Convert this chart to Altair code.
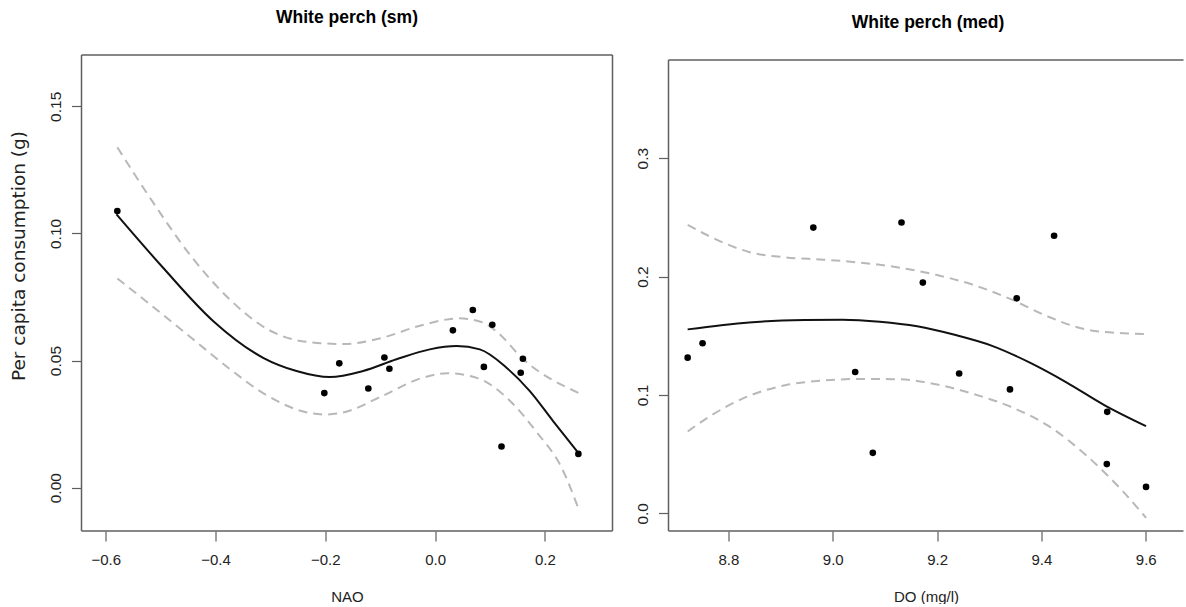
import altair as alt
import pandas as pd

# ---------------- Left panel: White perch (sm) vs NAO ----------------
nao_pts_x = [-0.579, -0.2018, -0.1745, -0.1216, -0.0923, -0.0832, 0.0325, 0.0688,
             0.0890, 0.1043, 0.1211, 0.1561, 0.1601, 0.2612]
nao_pts_y = [0.1088, 0.0372, 0.0489, 0.0390, 0.0512, 0.0468, 0.0619, 0.0699,
             0.0475, 0.0641, 0.0162, 0.0452, 0.0507, 0.0133]

nao_fit_x = [-0.5805, -0.4956, -0.4045, -0.3133, -0.2525, -0.1918, -0.1311, -0.0703,
             -0.0096, 0.0391, 0.0816, 0.1302, 0.1727, 0.2151, 0.2607]
nao_fit_y = [0.1075, 0.0865, 0.0656, 0.0511, 0.0459, 0.0435, 0.0459, 0.0505,
             0.0544, 0.0557, 0.0544, 0.0472, 0.0380, 0.0262, 0.0138]

nao_up_x = [-0.579, -0.5142, -0.4444, -0.3748, -0.3050, -0.2352, -0.1655, -0.0958,
            -0.0260, 0.0437, 0.0856, 0.1134, 0.1594, 0.2612]
nao_up_y = [0.1339, 0.1123, 0.0910, 0.0742, 0.0623, 0.0574, 0.0565, 0.0590,
            0.0638, 0.0666, 0.0651, 0.0612, 0.0508, 0.0373]

nao_lo_x = [-0.579, -0.5142, -0.4444, -0.3748, -0.3050, -0.2352, -0.2004, -0.1655,
            -0.0958, -0.0260, 0.0229, 0.0786, 0.1344, 0.1832, 0.2321, 0.2612]
nao_lo_y = [0.0823, 0.0712, 0.0590, 0.0468, 0.0361, 0.0297, 0.0288, 0.0297,
            0.0361, 0.0430, 0.0450, 0.0430, 0.0346, 0.0224, 0.0072, -0.0081]

nao_xticks = [-0.6, -0.4, -0.2, 0.0, 0.2]
nao_yticks = [0.00, 0.05, 0.10, 0.15]

# ---------------- Right panel: White perch (med) vs DO ----------------
do_pts_x = [8.7219, 8.7505, 8.9628, 9.0430, 9.0768, 9.1318, 9.1727, 9.2423,
            9.3397, 9.3526, 9.4243, 9.5261, 9.5253, 9.6005]
do_pts_y = [0.1315, 0.1437, 0.2414, 0.1194, 0.0511, 0.2457, 0.1949, 0.1181,
            0.1047, 0.1816, 0.2345, 0.0857, 0.0416, 0.0223]

do_fit_x = [8.7219, 8.8395, 8.9469, 9.0186, 9.0904, 9.1619, 9.2336, 9.3054,
            9.3769, 9.4486, 9.5204, 9.6005]
do_fit_y = [0.1554, 0.1613, 0.1633, 0.1636, 0.1619, 0.1580, 0.1508, 0.1415,
            0.1275, 0.1105, 0.0915, 0.0737]

do_band_x = [8.7219, 8.7678, 8.8395, 8.9110, 8.9828, 9.0545, 9.1262, 9.1978,
             9.2695, 9.3411, 9.4128, 9.4845, 9.5562, 9.6005]
do_up_y = [0.2437, 0.2332, 0.2208, 0.2162, 0.2143, 0.2117, 0.2077, 0.2015,
           0.1930, 0.1809, 0.1662, 0.1554, 0.1521, 0.1514]
do_lo_y = [0.0691, 0.0829, 0.0992, 0.1084, 0.1122, 0.1135, 0.1133, 0.1090,
           0.1008, 0.0900, 0.0740, 0.0495, 0.0185, -0.0038]

do_xticks = [8.8, 9.0, 9.2, 9.4, 9.6]
do_yticks = [0.0, 0.1, 0.2, 0.3]

FONT = "Liberation Sans"
FRAME = "#5f5f5f"
BAND = "#b8b8b8"
ONE = pd.DataFrame({"k": [0]})


def panel(px, py, fx, fy, ux, uy, lx, ly, xdom, ydom, xticks, yticks, xfmt, yfmt,
          W, H, title, toff, tdx, xtitle, ytitle, frame_top, right_side):
    xs = alt.Scale(domain=xdom, zero=False, nice=False)
    ys = alt.Scale(domain=ydom, zero=False, nice=False)
    xax = alt.Axis(values=xticks, format=xfmt, title=xtitle, grid=False, domain=False,
                   tickSize=10, tickColor=FRAME, tickWidth=1.2,
                   labelFont=FONT, labelFontSize=15, labelColor="#222",
                   labelBaseline="middle", labelPadding=18.5, labelFlush=False,
                   titleFont=FONT, titleFontSize=15, titleFontWeight="normal",
                   titleColor="#222", titleX=W / 2, titleY=65,
                   titleBaseline="middle", titleAlign="center")
    yargs = dict(values=yticks, format=yfmt, grid=False, domain=False,
                 tickSize=10, tickColor=FRAME, tickWidth=1.2,
                 labelFont=FONT, labelFontSize=15.5, labelColor="#222",
                 labelAngle=270, labelAlign="center", labelBaseline="middle",
                 labelPadding=16.5, labelFlush=False)
    if ytitle:
        yargs.update(title=ytitle, titleFont="DejaVu Sans", titleFontSize=18.5,
                     titleFontWeight="normal", titleColor="#222", titleAngle=270,
                     titleX=-63.2, titleY=200.5, titleAlign="center",
                     titleBaseline="middle")
    else:
        yargs.update(title=None)
    yax = alt.Axis(**yargs)

    pts = pd.DataFrame({"x": px, "y": py})
    fit = pd.DataFrame({"x": fx, "y": fy})
    up = pd.DataFrame({"x": ux, "y": uy})
    lo = pd.DataFrame({"x": lx, "y": ly})

    band_kw = dict(color=BAND, strokeWidth=2, strokeDash=[9, 6], interpolate="monotone")
    l_up = alt.Chart(up).mark_line(**band_kw).encode(
        x=alt.X("x:Q", scale=xs, axis=xax), y=alt.Y("y:Q", scale=ys, axis=yax))
    l_lo = alt.Chart(lo).mark_line(**band_kw).encode(x="x:Q", y="y:Q")
    l_fit = alt.Chart(fit).mark_line(color="#111", strokeWidth=2,
                                     interpolate="monotone").encode(x="x:Q", y="y:Q")
    l_pts = alt.Chart(pts).mark_circle(color="#000", size=44, opacity=1).encode(
        x="x:Q", y="y:Q")

    rk = dict(color=FRAME, strokeWidth=1.5)
    top = alt.Chart(ONE).mark_rule(**rk).encode(
        x=alt.value(0), x2=alt.value(W), y=alt.value(frame_top))
    bottom = alt.Chart(ONE).mark_rule(**rk).encode(
        x=alt.value(0), x2=alt.value(W), y=alt.value(H))
    left = alt.Chart(ONE).mark_rule(**rk).encode(
        x=alt.value(0), y=alt.value(frame_top), y2=alt.value(H))
    layers = [l_up, l_lo, l_fit, l_pts, top, bottom, left]
    if right_side:
        right = alt.Chart(ONE).mark_rule(**rk).encode(
            x=alt.value(W), y=alt.value(frame_top), y2=alt.value(H))
        layers.append(right)

    return alt.layer(*layers).properties(
        width=W, height=H,
        title=alt.TitleParams(title, font=FONT, fontSize=17.5, fontWeight="bold",
                              color="#000", anchor="middle", offset=toff,
                              baseline="middle", dx=tdx))


left_chart = panel(nao_pts_x, nao_pts_y, nao_fit_x, nao_fit_y, nao_up_x, nao_up_y,
                   nao_lo_x, nao_lo_y, [-0.64428, 0.32336], [-0.01703, 0.17018],
                   nao_xticks, nao_yticks, ".1f", ".2f", 531, 476,
                   "White perch (sm)", 18.6, 0, "NAO", "Per capita consumption (g)",
                   0, True)

right_chart = panel(do_pts_x, do_pts_y, do_fit_x, do_fit_y, do_band_x, do_up_y,
                    do_band_x, do_lo_y, [8.6852, 9.6723], [-0.01495, 0.3872],
                    do_xticks, do_yticks, ".1f", ".1f", 515, 476,
                    "White perch (med)", 14.7, 2, "DO (mg/l)", None,
                    5, False)

chart = alt.hconcat(left_chart, right_chart, spacing=56, bounds="flush").properties(
    padding={"left": 8.5, "top": 9, "right": 0, "bottom": 0},
    background="white",
).configure_view(strokeWidth=0)

chart.save("out.html", embed_options={"renderer": "svg", "actions": False})
